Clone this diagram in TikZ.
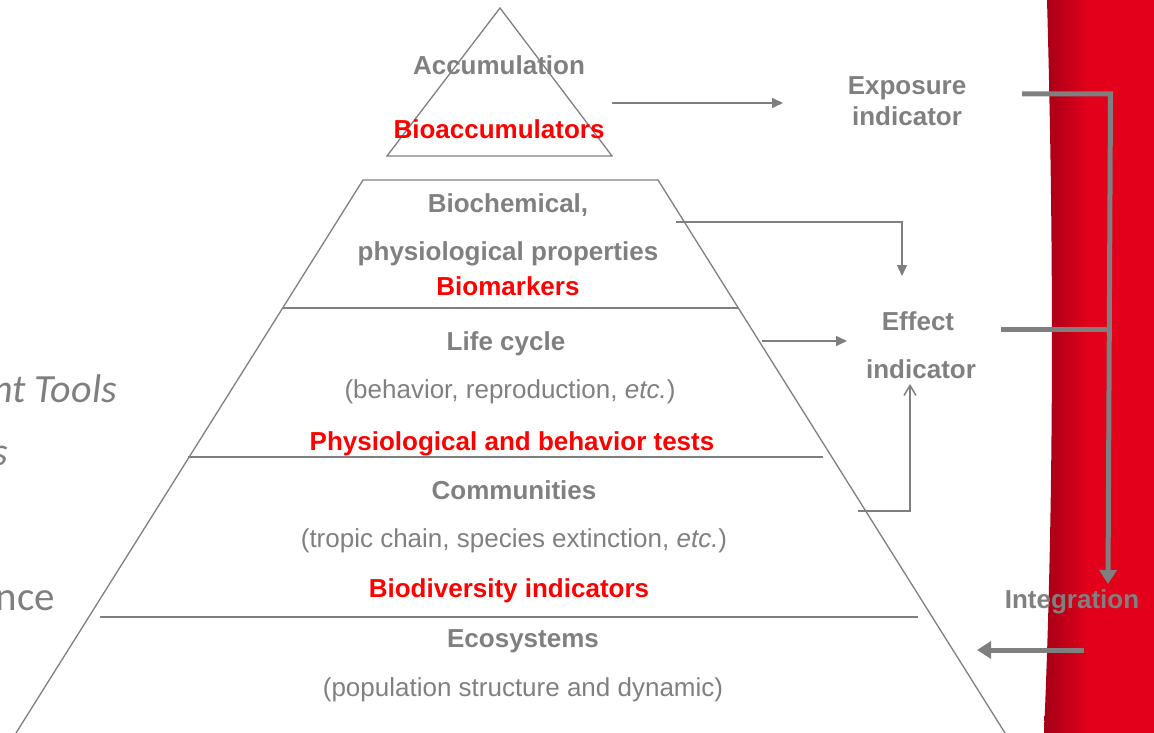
\documentclass[tikz,border=0pt]{standalone}
\usepackage{fontspec}
\setmainfont{Liberation Sans}
\newfontfamily\carlito{Carlito}
\usetikzlibrary{arrows.meta}
\definecolor{tgray}{HTML}{808080}
\definecolor{lgray}{HTML}{7F7F7F}
\definecolor{bandred}{HTML}{E2001A}
\definecolor{banddark}{HTML}{9E0016}
\begin{document}
\begin{tikzpicture}[x=1pt,y=-1pt,
  hd/.style={font=\fontsize{26}{30}\selectfont\bfseries, text=tgray, anchor=base, inner sep=0pt},
  sub/.style={font=\fontsize{26}{30}\selectfont, text=tgray, anchor=base, inner sep=0pt},
  rd/.style={font=\fontsize{26}{30}\selectfont\bfseries, text=red, anchor=base, inner sep=0pt},
  side/.style={font=\carlito\fontsize{40}{46}\selectfont\itshape, text=lgray, anchor=base east, inner sep=0pt},
  pyr/.style={draw=lgray, line width=1.3pt},
  thinarrow/.style={draw=lgray, line width=1.5pt, -{Triangle[length=11pt,width=10pt]}},
  openarrow/.style={draw=lgray, line width=1.5pt, -{Straight Barb[length=10pt,width=12pt]}},
  thickline/.style={draw=lgray, line width=5pt},
  thickarrow/.style={draw=lgray, line width=5pt, -{Triangle[length=14pt,width=17pt]}}
]
\useasboundingbox (0,0) rectangle (1154,733);
% red band
\begin{scope}
  \clip (1047,0) .. controls (1054,250) and (1054,500) .. (1044,733) -- (1154,733) -- (1154,0) -- cycle;
  \shade[left color=banddark, right color=bandred] (1040,0) rectangle (1088,733);
  \fill[bandred] (1087,0) rectangle (1154,733);
\end{scope}
% left clipped texts
\node[side] (lt1) at (117,402) {nt Tools};
\node[side] (lt2) at (8,465) {s};
\node[side, font=\carlito\fontsize{41}{46}\selectfont] (lt3) at (55,610) {nce};
% pyramid
\draw[pyr] (500,8) -- (612,156) -- (387,156) -- cycle;
\draw[pyr] (16,733) -- (363,180) -- (658,180) -- (1005,733);
\draw[pyr] (283,308) -- (738,308);
\draw[pyr] (188,457) -- (823,457);
\draw[pyr] (100,617) -- (918,617);
% pyramid texts
\node[hd] (acc) at (499,75) {Accumulation};
\node[rd] (bioacc) at (499,139) {Bioaccumulators};
\node[hd] (bioch) at (508,212) {Biochemical,};
\node[hd] (phys) at (508,260) {physiological properties};
\node[rd] (biom) at (508,295) {Biomarkers};
\node[hd] (life) at (506,350) {Life cycle};
\node[sub] (beh) at (510,398) {(behavior, reproduction, \textit{etc.})};
\node[rd] (pbt) at (512,450) {Physiological and behavior tests};
\node[hd] (comm) at (514,499) {Communities};
\node[sub] (trop) at (514,547) {(tropic chain, species extinction, \textit{etc.})};
\node[rd] (biod) at (509,597) {Biodiversity indicators};
\node[hd] (eco) at (523,647) {Ecosystems};
\node[sub] (pop) at (523,696) {(population structure and dynamic)};
% right texts
\node[hd] (expo1) at (907,95) {Exposure};
\node[hd] (expo2) at (907,126) {indicator};
\node[hd] (eff1) at (918,330) {Effect};
\node[hd] (eff2) at (921,378) {indicator};
\node[hd] (integ) at (1072,608) {Integration};
% thin connectors
\coordinate (a1s) at (612,103);
\coordinate (a1e) at (783,103);
\draw[thinarrow] (a1s) -- (a1e);
\coordinate (a2s) at (676,222);
\coordinate (a2e) at (902,276);
\draw[thinarrow] (a2s) -| (a2e);
\coordinate (a3s) at (762,341);
\coordinate (a3e) at (847,341);
\draw[thinarrow] (a3s) -- (a3e);
\coordinate (a4s) at (858,511);
\coordinate (a4e) at (910,384);
\draw[openarrow] (a4s) -| (a4e);
% thick connectors
\coordinate (t1s) at (1022,94);
\coordinate (t2s) at (1001,329);
\coordinate (tj) at (1108,329);
\coordinate (te) at (1108,584);
\draw[thickarrow] (t1s) -- (1110.5,94) -- (te);
\draw[thickline] (t2s) -- (tj);
\coordinate (b1s) at (1084,650);
\coordinate (b1e) at (977,650);
\draw[thickarrow] (b1s) -- (b1e);
\end{tikzpicture}
\end{document}
